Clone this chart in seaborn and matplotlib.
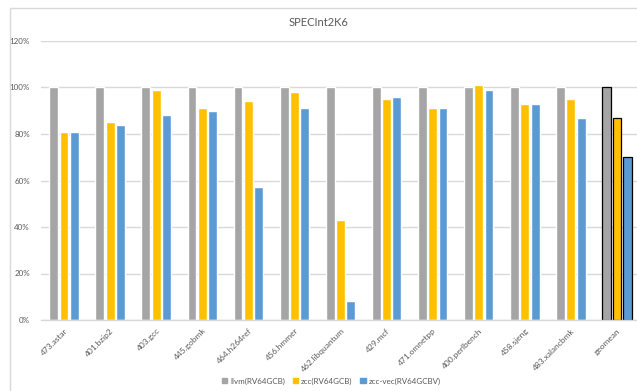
import matplotlib
matplotlib.use("Agg")
import matplotlib.pyplot as plt
import matplotlib.patches as mpatches
import seaborn as sns
import pandas as pd

benchmarks = ["473.astar", "401.bzip2", "403.gcc", "445.gobmk", "464.h264ref",
              "456.hmmer", "462.libquantum", "429.mcf", "471.omnetpp",
              "400.perlbench", "458.sjeng", "483.xalancbmk", "geomean"]
series = ["llvm(RV64GCB)", "zcc(RV64GCB)", "zcc-vec(RV64GCBV)"]
llvm = [100, 100, 100, 100, 100, 100, 100, 100, 100, 100, 100, 100, 100]
zcc = [81, 85, 99, 91, 94, 98, 43, 95, 91, 101, 93, 95, 87]
zcc_vec = [81, 84, 88, 90, 57, 91, 8, 96, 91, 99, 93, 87, 70]
yticks = [0, 20, 40, 60, 80, 100, 120]
ytick_labels = ["0%", "20%", "40%", "60%", "80%", "100%", "120%"]

colors = ["#A5A5A5", "#FFC000", "#5B9BD5"]

rows = []
for name, vals in zip(series, [llvm, zcc, zcc_vec]):
    for b, v in zip(benchmarks, vals):
        rows.append({"benchmark": b, "series": name, "value": v})
df = pd.DataFrame(rows)

sns.set_theme(style="white")
plt.rcParams["font.family"] = ["Lato", "DejaVu Sans"]

W, H = 637, 391
fig = plt.figure(figsize=(W / 100, H / 100), dpi=100)
fig.patch.set_facecolor("white")

# outer chart border
fig.add_artist(mpatches.Rectangle((10 / W, -0.1), 1.2, (H - 8) / H + 0.1,
                                  transform=fig.transFigure, fill=False,
                                  edgecolor="#D9D9D9", linewidth=1.0))

ax = fig.add_axes([41 / W, (H - 320) / H, (640 - 41) / W, (320 - 41) / H])
sns.barplot(data=df, x="benchmark", y="value", hue="series", order=benchmarks,
            hue_order=series, palette=colors, width=0.67, gap=0.14,
            saturation=1, ax=ax, legend=False)

# geomean bars have black outline
for cont in ax.containers:
    bar = cont.patches[-1]
    bar.set_edgecolor("black")
    bar.set_linewidth(0.9)

ax.set_ylim(0, 120)
ax.set_xlim(-0.5, len(benchmarks) - 0.5)
ax.set_yticks(yticks)
ax.set_yticklabels(ytick_labels, fontsize=5.8, color="#595959")
ax.yaxis.grid(True, color="#D9D9D9", linewidth=1.0)
ax.set_axisbelow(True)
for s in ["left", "right", "top"]:
    ax.spines[s].set_visible(False)
ax.spines["bottom"].set_color("#D9D9D9")
ax.spines["bottom"].set_linewidth(1.0)
ax.tick_params(axis="y", length=0, pad=8)
ax.tick_params(axis="x", length=0, pad=5)
ax.set_xticks(range(len(benchmarks)))
ax.set_xticklabels(benchmarks, rotation=45, ha="right", rotation_mode="anchor",
                   fontsize=6, color="#595959")
ax.set_xlabel("")
ax.set_ylabel("")

fig.text(0.5, (H - 23) / H, "SPECInt2K6", ha="center", va="center",
         fontsize=8, color="#595959")

handles = [mpatches.Patch(color=c, label=l) for c, l in zip(colors, series)]
fig.legend(handles=handles, loc="center", bbox_to_anchor=(0.52, (H - 381) / H),
           ncol=3, frameon=False, fontsize=5.8, labelcolor="#595959",
           handlelength=0.7, handleheight=0.7, handletextpad=0.3,
           columnspacing=1.0)

fig.savefig("out.png", dpi=100)
